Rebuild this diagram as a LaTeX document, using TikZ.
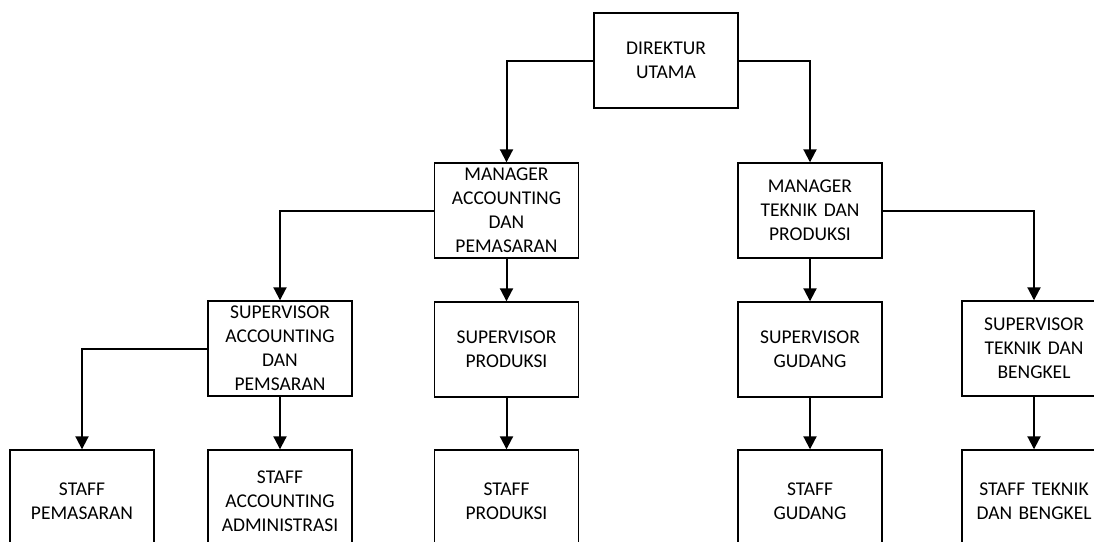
\documentclass[tikz,border=0pt]{standalone}
\usepackage{fontspec}
\setmainfont{Carlito}
\usetikzlibrary{arrows.meta}
\begin{document}
\begin{tikzpicture}[x=1pt,y=-1pt,
  box/.style={draw=black, line width=1.4pt, fill=white, minimum width=144pt, minimum height=95pt,
    inner sep=0pt, align=center, text width=140pt,
    font=\fontsize{19.5pt}{24pt}\selectfont},
  staffbox/.style={box, minimum height=103pt},
  link/.style={draw=black, line width=2pt, -{Triangle[width=13pt,length=13pt]}}]
\useasboundingbox (0,0) rectangle (1094,541);
\clip (0,0) rectangle (1094,541);
\node[box] (dir) at (666,60.5) {DIREKTUR\\UTAMA};
\node[box] (mac) at (506.5,210.5) {MANAGER\\ACCOUNTING\\DAN\\PEMASARAN};
\node[box] (mtp) at (810,210.5) {MANAGER\\TEKNIK DAN\\PRODUKSI};
\node[box] (sac) at (280,348.5) {SUPERVISOR\\ACCOUNTING\\DAN\\PEMSARAN};
\node[box] (spr) at (506.5,349.5) {SUPERVISOR\\PRODUKSI};
\node[box] (sgd) at (810,349.5) {SUPERVISOR\\GUDANG};
\node[box] (stb) at (1034,348.5) {SUPERVISOR\\TEKNIK DAN\\BENGKEL};
\node[staffbox] (fpm) at (82,501.5) {STAFF\\PEMASARAN};
\node[staffbox] (fac) at (280,501.5) {STAFF\\ACCOUNTING\\ADMINISTRASI};
\node[staffbox] (fpr) at (506.5,501.5) {STAFF\\PRODUKSI};
\node[staffbox] (fgd) at (810,501.5) {STAFF\\GUDANG};
\node[staffbox] (ftb) at (1034,501.5) {STAFF TEKNIK\\DAN BENGKEL};
\draw[link] (dir.west) -| (mac.north);
\draw[link] (dir.east) -| (mtp.north);
\draw[link] (mac.west) -| (sac.north);
\draw[link] (mac.south) -- (spr.north);
\draw[link] (mtp.east) -| (stb.north);
\draw[link] (mtp.south) -- (sgd.north);
\draw[link] (sac.west) -| (fpm.north);
\draw[link] (sac.south) -- (fac.north);
\draw[link] (spr.south) -- (fpr.north);
\draw[link] (sgd.south) -- (fgd.north);
\draw[link] (stb.south) -- (ftb.north);
\end{tikzpicture}
\end{document}
